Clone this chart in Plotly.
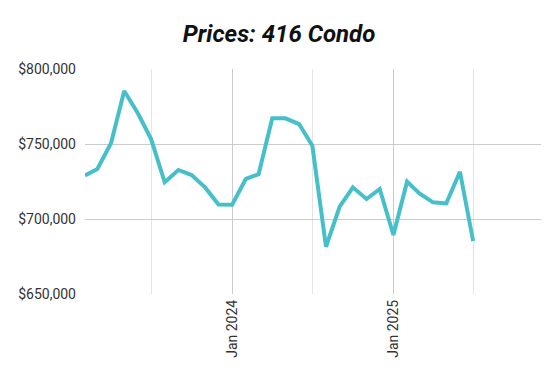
import plotly.graph_objects as go

months = [
    "2023-02-01", "2023-03-01", "2023-04-01", "2023-05-01", "2023-06-01", "2023-07-01",
    "2023-08-01", "2023-09-01", "2023-10-01", "2023-11-01", "2023-12-01", "2024-01-01",
    "2024-02-01", "2024-03-01", "2024-04-01", "2024-05-01", "2024-06-01", "2024-07-01",
    "2024-08-01", "2024-09-01", "2024-10-01", "2024-11-01", "2024-12-01", "2025-01-01",
    "2025-02-01", "2025-03-01", "2025-04-01", "2025-05-01", "2025-06-01", "2025-07-01",
]
prices = [
    729000, 733300, 750500, 785300, 770500, 753300,
    724500, 732700, 729300, 720900, 709700, 709500,
    726700, 729800, 767100, 767100, 763300, 748900,
    681500, 708200, 721100, 713300, 720000, 689300,
    724900, 717100, 711100, 710400, 731500, 685300,
]
major_ticks = ["2024-01-01", "2025-01-01"]
major_labels = ["Jan 2024", "Jan 2025"]
minor_ticks = ["2023-07-01", "2024-07-01", "2025-07-01"]
y_ticks = [650000, 700000, 750000, 800000]
title_text = "Prices: 416 Condo"

fig = go.Figure(
    go.Scatter(
        x=months, y=prices, mode="lines",
        line=dict(color="#47bfc9", width=4),
        hoverinfo="skip",
    )
)

fig.update_layout(
    width=560, height=379,
    margin=dict(l=77, r=27, t=61, b=93, autoexpand=False),
    paper_bgcolor="white", plot_bgcolor="white",
    showlegend=False,
    title=dict(
        text="<b><i>" + title_text + "</i></b>",
        x=0.484, xanchor="center", y=1 - 26 / 379, yanchor="middle",
        font=dict(family="Roboto", size=24, color="#111111"),
    ),
    font=dict(family="Roboto", size=14, color="#333333"),
)

fig.update_xaxes(
    type="date",
    range=["2023-02-01", "2025-12-02"],
    tickmode="array", tickvals=major_ticks, ticktext=major_labels,
    tickangle=-90,
    showgrid=True, gridcolor="#cccccc", gridwidth=1,
    minor=dict(tickmode="array", tickvals=minor_ticks, showgrid=True,
               gridcolor="#e4e4e4", gridwidth=1),
    showline=False, zeroline=False, ticks="",
    ticklabelstandoff=2,
    tickfont=dict(family="Roboto", size=14, color="#333333"),
)
fig.update_yaxes(
    range=[650000, 800000],
    tickmode="array", tickvals=y_ticks,
    tickformat="$,.0f",
    showgrid=True, gridcolor="#cccccc", gridwidth=1,
    showline=False, zeroline=False, ticks="",
    ticklabelstandoff=8,
    tickfont=dict(family="Roboto", size=14, color="#333333"),
)

fig.write_html("out.html")
